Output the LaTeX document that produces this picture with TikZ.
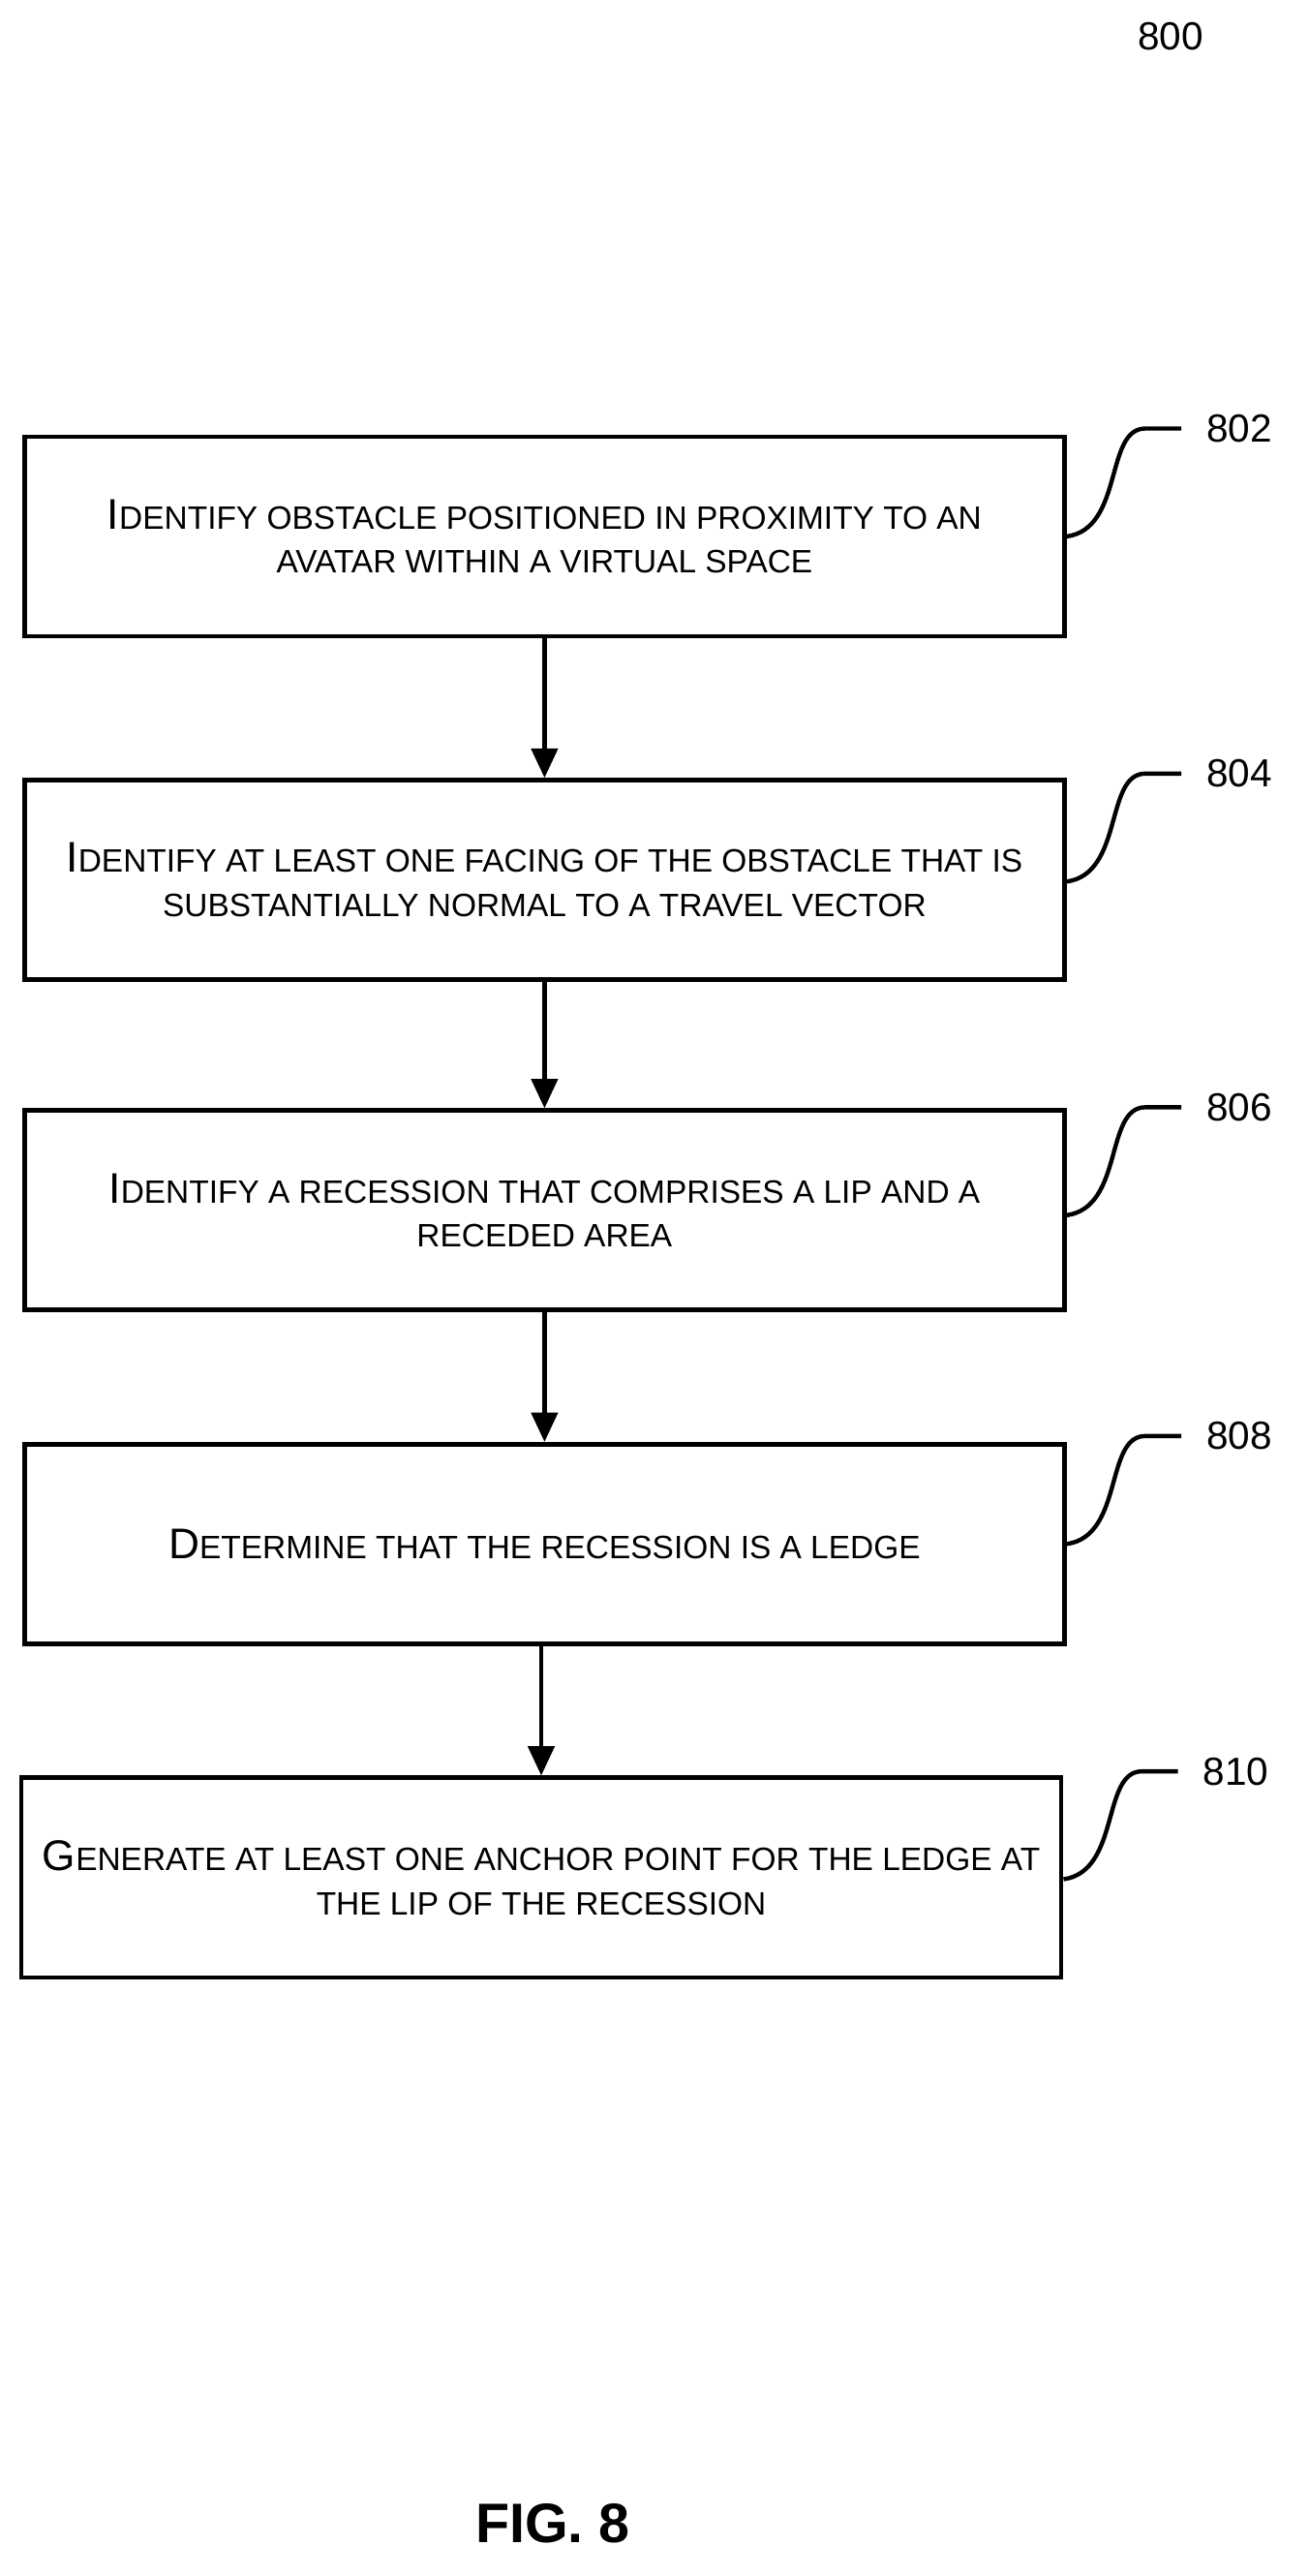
\documentclass[tikz,border=0pt]{standalone}
\usepackage{fontspec}
\setmainfont{Liberation Sans}
\usetikzlibrary{arrows.meta}
\newcommand{\Bg}[1]{{\fontsize{26.2}{32}\selectfont #1}}
\newcommand{\Sm}[1]{{\fontsize{19.8}{32}\selectfont #1}}
\begin{document}
\begin{tikzpicture}[x=1pt,y=-1pt,
  box/.style={draw,line width=2.8pt,minimum width=636pt,minimum height=122pt,align=center,inner sep=0pt},
  arr/.style={line width=2.8pt,-{Triangle[length=18pt,width=16pt]}},
  lead/.style={line width=2.6pt},
  num/.style={font=\fontsize{24}{28}\selectfont}]
\useasboundingbox (0,0) rectangle (800,1575);
\node[num] (n800) at (716,22) {800};
\node[box] (b1) at (333,328) {\Bg{I}\Sm{DENTIFY OBSTACLE POSITIONED IN PROXIMITY TO AN}\\[12pt]\Sm{AVATAR WITHIN A VIRTUAL SPACE}};
\node[box] (b2) at (333,538) {\Bg{I}\Sm{DENTIFY AT LEAST ONE FACING OF THE OBSTACLE THAT IS}\\[12pt]\Sm{SUBSTANTIALLY NORMAL TO A TRAVEL VECTOR}};
\node[box] (b3) at (333,740) {\Bg{I}\Sm{DENTIFY A RECESSION THAT COMPRISES A LIP AND A}\\[12pt]\Sm{RECEDED AREA}};
\node[box] (b4) at (333,944) {\Bg{D}\Sm{ETERMINE THAT THE RECESSION IS A LEDGE}};
\node[box] (b5) at (331,1148) {\Bg{G}\Sm{ENERATE AT LEAST ONE ANCHOR POINT FOR THE LEDGE AT}\\[12pt]\Sm{THE LIP OF THE RECESSION}};
\draw[arr] (b1.south) -- (b2.north);
\draw[arr] (b2.south) -- (b3.north);
\draw[arr] (b3.south) -- (b4.north);
\draw[arr] (b4.south -| b5.north) -- (b5.north);
\foreach \b/\n/\y in {b1/802/262, b2/804/473, b3/806/677, b4/808/878, b5/810/1083}{
  \coordinate (e\n) at (\b.east |- 0,\y+66);
  \draw[lead] (e\n) .. controls +(35,-5) and +(-25,0) .. ++(48,-66) coordinate (c\n) -- ++(22,0) coordinate (d\n);
  \node[num,anchor=west] (l\n) at ([xshift=12pt]d\n) {\n};
}
\node[font=\bfseries\fontsize{34}{40}\selectfont] (fig) at (338,1543) {FIG. 8};
\end{tikzpicture}
\end{document}
